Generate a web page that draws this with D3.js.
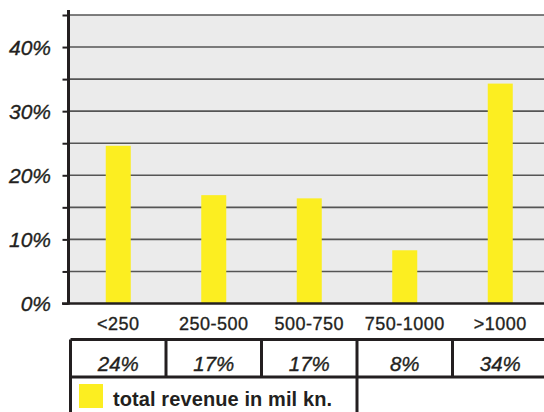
<!DOCTYPE html>
<html><head><meta charset="utf-8">
<script src="https://cdn.jsdelivr.net/npm/d3@7"></script>
<style>
html,body{margin:0;padding:0;background:#fff;}
svg{display:block;font-family:"Liberation Sans",Arial,sans-serif;}
</style></head>
<body>
<svg id="c" width="544" height="412"></svg>
<script>
const categories = ["<250", "250-500", "500-750", "750-1000", ">1000"];
const values = [24.6, 16.9, 16.4, 8.3, 34.3];
const tableLabels = ["24%", "17%", "17%", "8%", "34%"];
const yTickValues = [0, 5, 10, 15, 20, 25, 30, 35, 40, 45];
const yLabelValues = [0, 10, 20, 30, 40];
const legendLabel = "total revenue in mil kn.";

const svg = d3.select("#c");
const x = d3.scaleBand().domain(categories).range([70.5, 548]).padding(0);
const y = d3.scaleLinear().domain([0, 45]).range([303.5, 15]);
const barW = 25;
const axisX = 68.5;
const ink = "#231f20";

// plot background
svg.append("rect").attr("x", axisX).attr("y", y(45))
  .attr("width", 544 - axisX).attr("height", y(0) - y(45)).attr("fill", "#ebebeb");

// gridlines
svg.append("g").selectAll("line").data(yTickValues.filter(d => d > 0)).join("line")
  .attr("x1", axisX).attr("x2", 544).attr("y1", d => y(d)).attr("y2", d => y(d))
  .attr("stroke", "#555").attr("stroke-width", 1.6);

// bars
svg.append("g").selectAll("rect").data(values).join("rect")
  .attr("x", (d, i) => x(categories[i]) + x.bandwidth() / 2 - barW / 2)
  .attr("width", barW)
  .attr("y", d => y(d)).attr("height", d => y(0) - y(d))
  .attr("fill", "#fcee21");

// y axis
const yAxis = d3.axisLeft(y).tickValues(yTickValues).tickSize(6).tickFormat("");
const ga = svg.append("g").attr("transform", `translate(${axisX},0)`).call(yAxis);
ga.select(".domain").remove();
ga.selectAll(".tick line").attr("stroke", ink).attr("stroke-width", 2);
svg.append("line").attr("x1", axisX).attr("x2", axisX).attr("y1", 10).attr("y2", y(0) + 1)
  .attr("stroke", ink).attr("stroke-width", 3);
svg.append("line").attr("x1", 62).attr("x2", 544).attr("y1", y(0)).attr("y2", y(0))
  .attr("stroke", ink).attr("stroke-width", 2.5);

// y labels
svg.append("g").selectAll("text").data(yLabelValues).join("text")
  .attr("x", 51).attr("y", d => y(d) + 7.5)
  .attr("text-anchor", "end").attr("font-style", "italic").attr("font-size", 21)
  .attr("fill", ink).attr("stroke", ink).attr("stroke-width", 0.35).text(d => d + "%");

// x labels
svg.append("g").selectAll("text").data(categories).join("text")
  .attr("x", d => x(d) + x.bandwidth() / 2).attr("y", 329.5)
  .attr("text-anchor", "middle").attr("font-size", 18).attr("letter-spacing", 0.5)
  .attr("fill", ink).attr("stroke", ink).attr("stroke-width", 0.35).text(d => d);

// table
const tTop = 339.5, tMid = 377;
const tg = svg.append("g").attr("stroke", ink).attr("stroke-width", 3);
tg.append("line").attr("x1", x.range()[0]).attr("x2", 544).attr("y1", tTop).attr("y2", tTop);
tg.append("line").attr("x1", x.range()[0]).attr("x2", 544).attr("y1", tMid).attr("y2", tMid);
tg.selectAll(".v").data(categories).join("line").attr("class", "v")
  .attr("x1", d => x(d)).attr("x2", d => x(d)).attr("y1", tTop).attr("y2", tMid);
tg.append("line").attr("x1", x.range()[0]).attr("x2", x.range()[0]).attr("y1", tMid).attr("y2", 412);
tg.append("line").attr("x1", x(categories[3])).attr("x2", x(categories[3])).attr("y1", tMid).attr("y2", 412);

svg.append("g").selectAll("text").data(tableLabels).join("text")
  .attr("x", (d, i) => x(categories[i]) + x.bandwidth() / 2).attr("y", 370.5)
  .attr("text-anchor", "middle").attr("font-style", "italic").attr("font-size", 20.5)
  .attr("fill", ink).attr("stroke", ink).attr("stroke-width", 0.35).text(d => d);

// legend
svg.append("rect").attr("x", 79).attr("y", 384).attr("width", 24).attr("height", 24).attr("fill", "#fcee21");
svg.append("text").attr("x", 113).attr("y", 406).attr("font-weight", "bold").attr("font-size", 20)
  .attr("letter-spacing", 0.1).attr("fill", ink).text(legendLabel);
</script>
</body></html>
